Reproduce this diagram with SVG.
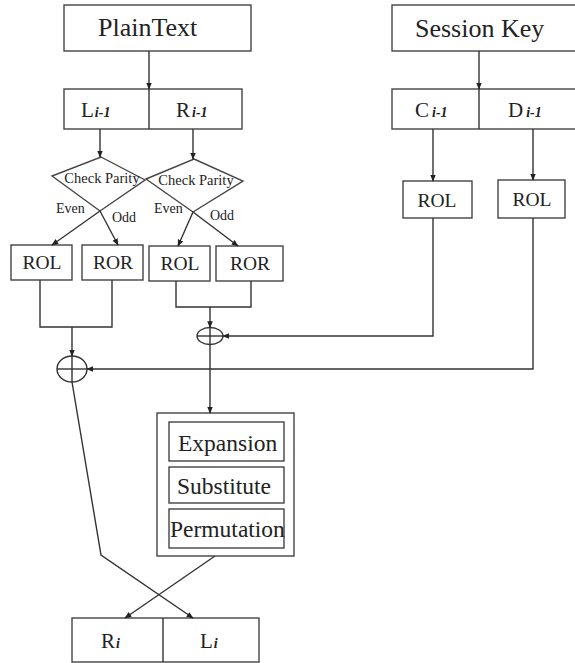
<svg xmlns="http://www.w3.org/2000/svg" width="575" height="663" viewBox="0 0 575 663">
  <style>
    .box { fill: #fff; stroke: #444; stroke-width: 1.4; }
    .line { fill: none; stroke: #333; stroke-width: 1.4; }
    .arrow { fill: none; stroke: #333; stroke-width: 1.4; marker-end: url(#head); }
    .t { font-family: "Liberation Serif", "Times New Roman", serif; fill: #222; }
    .big { font-size: 26px; }
    .mid { font-size: 21px; }
    .op { font-size: 19.5px; text-anchor: middle; }
    .stage { font-size: 23.5px; }
    .small { font-size: 14px; }
    .check { font-size: 14.5px; text-anchor: middle; }
    .sub { font-size: 14px; font-style: italic; font-weight: bold; }
  </style>
  <defs>
    <marker id="head" viewBox="0 0 10 10" refX="9" refY="5" markerWidth="7" markerHeight="7" markerUnits="userSpaceOnUse" orient="auto">
      <path d="M0 1 L10 5 L0 9 Z" fill="#222"/>
    </marker>
  </defs>
  <rect width="575" height="663" fill="#fff"/>

  <!-- input blocks -->
  <g id="plaintext">
    <rect class="box" x="64" y="5" width="187" height="46"/>
    <text class="t big" x="98" y="36">PlainText</text>
  </g>
  <g id="session-key">
    <rect class="box" x="392" y="5" width="190" height="46"/>
    <text class="t big" x="415" y="37">Session Key</text>
  </g>

  <!-- split halves -->
  <g id="l-r-halves">
    <rect class="box" x="64" y="89" width="178" height="40"/>
    <line class="line" x1="149" y1="89" x2="149" y2="129"/>
    <text class="t mid" x="81" y="117">L<tspan class="sub" dx="1">i-1</tspan></text>
    <text class="t mid" x="176" y="117">R<tspan class="sub" dx="2">i-1</tspan></text>
  </g>
  <g id="c-d-halves">
    <rect class="box" x="392" y="89" width="190" height="40"/>
    <line class="line" x1="479" y1="89" x2="479" y2="129"/>
    <text class="t mid" x="415" y="117">C<tspan class="sub" dx="3">i-1</tspan></text>
    <text class="t mid" x="508" y="117">D<tspan class="sub" dx="3">i-1</tspan></text>
  </g>

  <!-- parity checks -->
  <g id="parity-left">
    <polygon class="box" points="101,157 145,180 100,211 52,176"/>
    <text class="t check" x="102" y="183">Check Parity</text>
    <text class="t small" x="56" y="213">Even</text>
    <text class="t small" x="112" y="222">Odd</text>
  </g>
  <g id="parity-right">
    <polygon class="box" points="194,159 243,181 193,212 146,179"/>
    <text class="t check" x="196" y="185">Check Parity</text>
    <text class="t small" x="154" y="213">Even</text>
    <text class="t small" x="210" y="220">Odd</text>
  </g>

  <!-- rotations -->
  <g id="rol-l">
    <rect class="box" x="11" y="245" width="61" height="35"/>
    <text class="t op" x="42" y="269">ROL</text>
  </g>
  <g id="ror-l">
    <rect class="box" x="82" y="245" width="61" height="35"/>
    <text class="t op" x="113" y="269">ROR</text>
  </g>
  <g id="rol-r">
    <rect class="box" x="149" y="246" width="61" height="35"/>
    <text class="t op" x="180" y="270">ROL</text>
  </g>
  <g id="ror-r">
    <rect class="box" x="216" y="246" width="67" height="35"/>
    <text class="t op" x="250" y="270">ROR</text>
  </g>
  <g id="rol-c">
    <rect class="box" x="403" y="181" width="69" height="37"/>
    <text class="t op" x="437" y="207">ROL</text>
  </g>
  <g id="rol-d">
    <rect class="box" x="498" y="180" width="67" height="38"/>
    <text class="t op" x="532" y="206">ROL</text>
  </g>

  <!-- XOR operators -->
  <g id="xor-big">
    <ellipse class="line" cx="72" cy="369" rx="15" ry="13"/>
    <line class="line" x1="57" y1="369" x2="87" y2="369"/>
    <line class="line" x1="72" y1="356" x2="72" y2="382"/>
  </g>
  <g id="xor-small">
    <ellipse class="line" cx="210" cy="336" rx="13" ry="8.5"/>
    <line class="line" x1="197" y1="336" x2="223" y2="336"/>
    <line class="line" x1="210" y1="327.5" x2="210" y2="344.5"/>
  </g>

  <!-- round function -->
  <g id="round-function">
    <rect class="box" x="157" y="413" width="137" height="143"/>
    <rect class="box" x="169" y="422" width="115" height="39"/>
    <rect class="box" x="169" y="467" width="115" height="36"/>
    <rect class="box" x="169" y="509" width="115" height="39"/>
    <text class="t stage" x="178" y="451">Expansion</text>
    <text class="t stage" x="177" y="494">Substitute</text>
    <text class="t stage" x="170" y="537">Permutation</text>
  </g>

  <!-- output halves -->
  <g id="output-halves">
    <rect class="box" x="72" y="618" width="187" height="44"/>
    <line class="line" x1="163" y1="618" x2="163" y2="662"/>
    <text class="t mid" x="101" y="648">R<tspan class="sub" dx="1">i</tspan></text>
    <text class="t mid" x="200" y="648">L<tspan class="sub" dx="1">i</tspan></text>
  </g>

  <g id="connectors">
    <path class="arrow" d="M149 51 V89"/>
    <path class="arrow" d="M479 51 V89"/>
    <path class="arrow" d="M100 129 V157"/>
    <path class="arrow" d="M193 129 V159"/>
    <path class="arrow" d="M433 129 V181"/>
    <path class="arrow" d="M533 129 V180"/>
    <path class="arrow" d="M100 211 L52 245"/>
    <path class="arrow" d="M100 211 L118 245"/>
    <path class="arrow" d="M193 212 L178 246"/>
    <path class="arrow" d="M193 212 L238 246"/>
    <path class="line" d="M40 280 V327 H112 V280"/>
    <path class="arrow" d="M72 327 V356"/>
    <path class="line" d="M176 281 V307 H251 V281"/>
    <path class="arrow" d="M210 307 V327.5"/>
    <path class="arrow" d="M433 218 V336 H223"/>
    <path class="arrow" d="M533 218 V369 H87"/>
    <path class="arrow" d="M210 344.5 V413"/>
    <path class="arrow" d="M72 382 L101 555 L193 618"/>
    <path class="arrow" d="M215 556 L125 618"/>
  </g>
</svg>
